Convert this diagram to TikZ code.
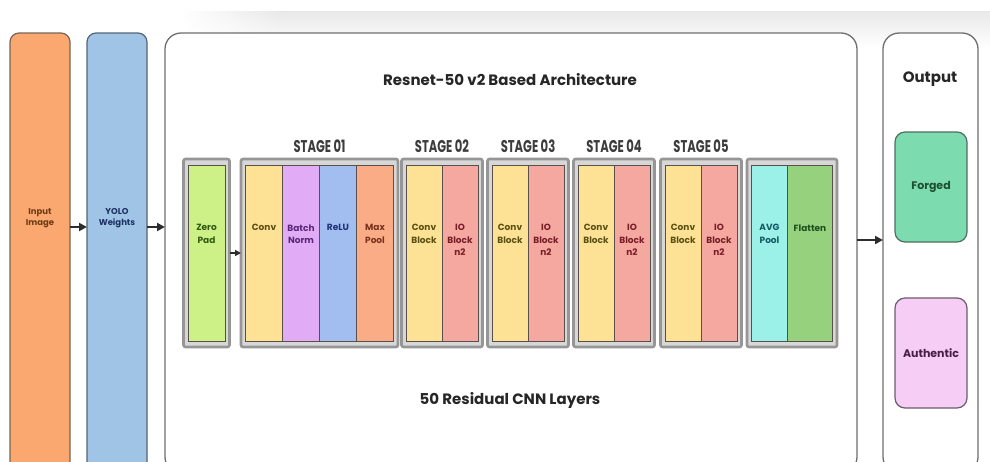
\documentclass[tikz,border=0pt]{standalone}
\usepackage{fontspec}
\setmainfont{Poppins}
\usetikzlibrary{positioning, arrows.meta, fadings}
\definecolor{naranja}{RGB}{250,168,112}
\definecolor{naranjaborde}{RGB}{120,100,85}
\definecolor{naranjatexto}{RGB}{110,60,20}
\definecolor{azulyolo}{RGB}{160,196,230}
\definecolor{azulborde}{RGB}{85,100,120}
\definecolor{azultexto}{RGB}{30,50,100}
\definecolor{panelborde}{RGB}{110,110,110}
\definecolor{framegris}{RGB}{150,150,150}
\definecolor{framefondo}{RGB}{215,215,215}
\definecolor{capaborde}{RGB}{90,80,75}
\definecolor{lima}{RGB}{205,240,135}
\definecolor{limatexto}{RGB}{50,90,20}
\definecolor{amarillo}{RGB}{253,226,150}
\definecolor{amarillotexto}{RGB}{90,80,20}
\definecolor{lila}{RGB}{225,172,245}
\definecolor{lilatexto}{RGB}{90,40,120}
\definecolor{celeste}{RGB}{162,190,240}
\definecolor{celestetexto}{RGB}{30,50,120}
\definecolor{salmon}{RGB}{250,172,135}
\definecolor{salmontexto}{RGB}{120,50,30}
\definecolor{rosa}{RGB}{245,168,160}
\definecolor{rosatexto}{RGB}{120,30,40}
\definecolor{aqua}{RGB}{155,240,232}
\definecolor{aquatexto}{RGB}{20,90,100}
\definecolor{pasto}{RGB}{150,210,125}
\definecolor{pastotexto}{RGB}{30,80,30}
\definecolor{menta}{RGB}{125,220,175}
\definecolor{mentatexto}{RGB}{30,80,50}
\definecolor{mentaborde}{RGB}{80,110,95}
\definecolor{rosado}{RGB}{245,205,245}
\definecolor{rosadotexto}{RGB}{70,30,70}
\definecolor{rosadoborde}{RGB}{110,90,110}
\definecolor{flechagris}{RGB}{45,45,45}
\definecolor{etapa}{RGB}{60,60,60}

\begin{document}
\begin{tikzpicture}[
		x=1pt, y=-1pt,
		tallbox/.style = {draw, line width=1.2pt, rounded corners=9pt,
			minimum width=60pt, minimum height=440pt, outer sep=0pt},
		panel/.style = {draw=panelborde, line width=1.3pt, rounded corners=16pt,
			fill=white, minimum height=440pt, outer sep=0pt},
		frame/.style = {draw=framegris, line width=2.6pt, fill=framefondo,
			rounded corners=2pt, minimum height=188pt, inner sep=0pt, outer sep=0pt},
		layer/.style = {draw=capaborde, line width=1pt, minimum width=36pt,
			minimum height=176pt, inner sep=0pt, outer sep=0pt},
		capa/.style = {font=\bfseries\fontsize{9}{12.5}\selectfont, align=center,
			anchor=north, yshift=-56pt},
		caja/.style = {font=\bfseries\fontsize{8.5}{11}\selectfont, align=center,
			anchor=center, yshift=35pt},
		stage/.style = {font=\bfseries\fontsize{17}{18}\selectfont, text=etapa},
		titulo/.style = {font=\bfseries\fontsize{15}{18}\selectfont, text=black!85},
		outbox/.style = {line width=1.2pt, rounded corners=10pt, minimum width=72pt,
			minimum height=110pt, font=\bfseries\fontsize{11}{13}\selectfont},
		flecha/.style = {-{Triangle[length=8pt,width=8pt]}, line width=2pt, draw=flechagris}
		]
		\useasboundingbox (0,0) rectangle (990,461);
		
		% sombra suave arriba
		\shade[top color=black!9, bottom color=white] (280,11) rectangle (990,48);
		\shade[left color=white, right color=black!9, path fading=south] (180,11) rectangle (280,48);
		
		% Entrada y pesos
		\node[tallbox, fill=naranja, draw=naranjaborde,
			label={[caja, text=naranjatexto]center:Input\\Image}] (input) at (40,253) {};
		\node[tallbox, fill=azulyolo, draw=azulborde,
			label={[caja, text=azultexto]center:YOLO\\Weights}] (yolo) at (117,253) {};
		
		% Paneles
		\node[panel, minimum width=692pt] (resnet) at (511,253) {};
		\node[panel, minimum width=95pt] (salida) at (930.5,253) {};
		\node[titulo] (titulo) at (510,80) {Resnet-50 v2 Based Architecture};
		\node[titulo] (capas) at (510,400) {50 Residual CNN Layers};
		\node[titulo] (outtit) at (930,79) {Output};
		
		% Marcos de etapas
		\node[frame, minimum width=46pt] (pad) at (206.5,253) {};
		\node[frame, minimum width=157pt] (s1) at (319.5,253) {};
		\node[frame, minimum width=81pt] (s2) at (442,253) {};
		\node[frame, minimum width=81pt] (s3) at (528,253) {};
		\node[frame, minimum width=81pt] (s4) at (614,253) {};
		\node[frame, minimum width=81pt] (s5) at (701,253) {};
		\node[frame, minimum width=90pt] (fin) at (792,253) {};
		
		\node[stage, above=3pt of s1] (e1) {\scalebox{0.68}[1]{STAGE 01}};
		\node[stage, above=3pt of s2] (e2) {\scalebox{0.68}[1]{STAGE 02}};
		\node[stage, above=3pt of s3] (e3) {\scalebox{0.68}[1]{STAGE 03}};
		\node[stage, above=3pt of s4] (e4) {\scalebox{0.68}[1]{STAGE 04}};
		\node[stage, above=3pt of s5] (e5) {\scalebox{0.68}[1]{STAGE 05}};
		
		% Zero Pad
		\node[layer, fill=lima, minimum width=37pt,
			label={[capa, text=limatexto]north:Zero\\Pad}] (zp) at (pad) {};
		
		% Stage 01
		\node[layer, fill=amarillo, minimum width=37pt, anchor=west,
			label={[capa, text=amarillotexto]north:Conv}] (s1conv) at ([xshift=4.5pt]s1.west) {};
		\node[layer, fill=lila, minimum width=37pt, right=0pt of s1conv,
			label={[capa, text=lilatexto]north:Batch\\Norm}] (s1bn) {};
		\node[layer, fill=celeste, minimum width=37pt, right=0pt of s1bn,
			label={[capa, text=celestetexto]north:ReLU}] (s1relu) {};
		\node[layer, fill=salmon, minimum width=37pt, right=0pt of s1relu,
			label={[capa, text=salmontexto]north:Max\\Pool}] (s1pool) {};
		
		% Stages 02 - 05
		\foreach \s in {s2,s3,s4,s5}{
			\node[layer, fill=amarillo, anchor=west,
				label={[capa, text=amarillotexto]north:Conv\\Block}] (\s conv) at ([xshift=4.5pt]\s.west) {};
			\node[layer, fill=rosa, right=0pt of \s conv,
				label={[capa, text=rosatexto]north:IO\\Block\\n2}] (\s io) {};
		}
		
		% Pool y Flatten
		\node[layer, fill=aqua, anchor=west,
			label={[capa, text=aquatexto]north:AVG\\Pool}] (avg) at ([xshift=4.5pt]fin.west) {};
		\node[layer, fill=pasto, minimum width=45pt, right=0pt of avg,
			label={[capa, text=pastotexto]north:Flatten}] (flat) {};
		
		% Salidas
		\node[outbox, draw=mentaborde, fill=menta, text=mentatexto] (forged) at (931,187) {Forged};
		\node[outbox, draw=rosadoborde, fill=rosado, text=rosadotexto] (authentic) at (931,353) {Authentic};
		
		% Flechas
		\draw[flecha] ([yshift=26pt]input.east) -- ([yshift=26pt]yolo.west);
		\draw[flecha] ([yshift=26pt]yolo.east) -- ([yshift=26pt]resnet.west);
		\draw[flecha, line width=1.5pt, -{Triangle[length=6pt,width=6pt]}] (pad.east) -- (s1.west);
		\draw[flecha] ([yshift=13pt]resnet.east) -- ([yshift=13pt]salida.west);
		
	\end{tikzpicture}
\end{document}
